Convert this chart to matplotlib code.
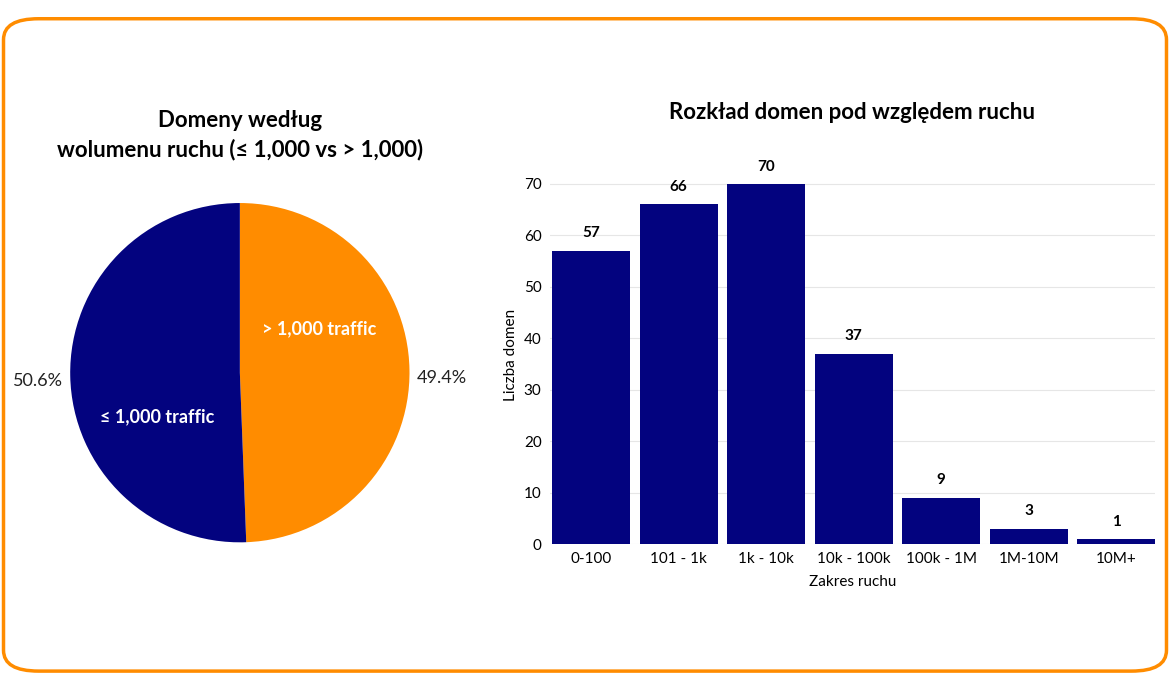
import matplotlib.pyplot as plt
from matplotlib.patches import FancyBboxPatch

plt.rcParams["font.family"] = ["Lato", "DejaVu Sans"]

NAVY = "#03037f"
ORANGE = "#ff8c00"

pie_labels = ["> 1,000 traffic", "≤ 1,000 traffic"]
pie_shares = [49.4, 50.6]

ranges = ["0-100", "101 - 1k", "1k - 10k", "10k - 100k", "100k - 1M", "1M-10M", "10M+"]
counts = [57, 66, 70, 37, 9, 3, 1]

fig = plt.figure(figsize=(11.7, 6.94), dpi=100)

border = FancyBboxPatch((0.003, 0.033), 0.994, 0.94, boxstyle="round,pad=0,rounding_size=0.03",
                        transform=fig.transFigure, fill=False, edgecolor=ORANGE, linewidth=2.5)
fig.patches.append(border)

# pie
ax1 = fig.add_axes([0.06, 0.218, 0.29, 0.49])
ax1.pie(pie_shares, colors=[ORANGE, NAVY], startangle=90, counterclock=False)
ax1.set_xlim(-1, 1)
ax1.set_ylim(-1, 1)
ax1.set_aspect("equal")
label_pos = [(0.47, 0.26), (-0.49, -0.26)]
pct_pos = [(1.19, -0.03), (-1.19, -0.05)]
for lab, share, (lx, ly), (px, py) in zip(pie_labels, pie_shares, label_pos, pct_pos):
    ax1.text(lx, ly, lab, ha="center", va="center", color="white", fontweight="bold", fontsize=13)
    ax1.text(px, py, f"{share:.1f}%", ha="center", va="center", color="#222222", fontsize=13,
             clip_on=False)
fig.text(0.205, 0.805, "Domeny według\nwolumenu ruchu (≤ 1,000 vs > 1,000)", ha="center", va="center",
         fontsize=16, fontweight="bold", linespacing=1.4)

# bars
ax2 = fig.add_axes([0.47, 0.216, 0.517, 0.545])
x = range(len(ranges))
bars = ax2.bar(x, counts, width=0.89, color=NAVY, zorder=2)
for b, v in zip(bars, counts):
    ax2.text(b.get_x() + b.get_width() / 2, v + 2, str(v), ha="center", va="bottom",
             fontsize=11, fontweight="bold")
ax2.set_xlim(-0.47, 6.44)
ax2.set_ylim(0, 73.5)
ax2.set_yticks(range(0, 71, 10))
ax2.set_xticks(list(x))
ax2.set_xticklabels(ranges)
ax2.grid(axis="y", color="#e6e6e6", linewidth=0.8, zorder=0)
for s in ax2.spines.values():
    s.set_visible(False)
ax2.tick_params(length=0, labelsize=11, pad=6)
ax2.set_xlabel("Zakres ruchu", fontsize=11, labelpad=6)
ax2.set_ylabel("Liczba domen", fontsize=11)
ax2.set_title("Rozkład domen pod względem ruchu", fontsize=16, fontweight="bold", pad=34)

fig.savefig("out.png", dpi=100)
